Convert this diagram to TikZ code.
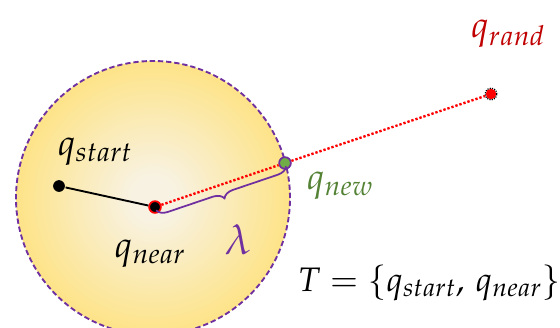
\documentclass[tikz,border=0pt]{standalone}
\usepackage{mathpazo}
\usetikzlibrary{decorations.pathreplacing}
\definecolor{rrtpurple}{RGB}{112,48,160}
\definecolor{rrtred}{RGB}{192,0,0}
\definecolor{rrtgreen}{RGB}{84,130,53}
\definecolor{newgreen}{RGB}{112,173,71}
\definecolor{ballin}{RGB}{248,242,226}
\definecolor{ballmid}{RGB}{253,228,140}
\definecolor{ballrim}{RGB}{250,204,70}
\definecolor{ballout}{RGB}{244,178,10}
\pgfdeclareradialshading{ballshade}{\pgfpoint{0bp}{0bp}}{color(0bp)=(ballin); color(4bp)=(ballin); color(24bp)=(ballmid); color(42bp)=(ballrim); color(50bp)=(ballout)}
\tikzset{
  lbl/.style={font=\fontsize{31}{34}\selectfont},
  dot/.style={circle,inner sep=0pt,minimum size=10pt,line width=1.5pt}
}
\begin{document}
\begin{tikzpicture}[x=0.03cm,y=-0.03cm]
\useasboundingbox (0,0) rectangle (560,327);
% search ball
\begin{scope}
\clip (0,0) rectangle (560,327);
\shade[shading=ballshade] (153,198) circle (4.11cm);
\draw[rrtpurple,line width=1.6pt,dash pattern=on 4.5pt off 2.5pt] (153,198) circle (4.11cm);
\end{scope}
% tree and sample
\node[dot,fill=black] (qstart) at (59,186) {};
\node[dot,fill=black,draw=red] (qnear) at (155,207) {};
\node[dot,fill=newgreen,draw=rrtpurple] (qnew) at (285,163) {};
\node[dot,fill=red,minimum size=9pt] (qrand) at (491,94) {};
\draw[line width=1.6pt] (qstart) -- (qnear);
\draw[red,line width=2pt,dash pattern=on 2pt off 1.6pt] (qnear) -- (qnew) -- (qrand);
\draw[black,line width=1pt,dash pattern=on 1pt off 1pt] (qrand) circle (5pt);
% step size
\draw[rrtpurple,line width=1.5pt,decorate,decoration={brace,mirror,amplitude=9pt,raise=3pt}] (qnear.center) -- (qnew.center);
% labels
\node[lbl] (lstart) at (95,152) {$q_{start}$};
\node[lbl] (lnear) at (150,254) {$q_{near}$};
\node[lbl,rrtgreen] (lnew) at (340,186) {$q_{new}$};
\node[lbl,rrtred] (lrand) at (508,34) {$q_{rand}$};
\node[lbl,rrtpurple,font=\fontsize{36}{40}\selectfont] (llambda) at (238,240) {$\lambda$};
\node[lbl,font=\fontsize{29}{32}\selectfont] (ltree) at (429,283) {$T=\{q_{start},\,q_{near}\}$};
\end{tikzpicture}
\end{document}
